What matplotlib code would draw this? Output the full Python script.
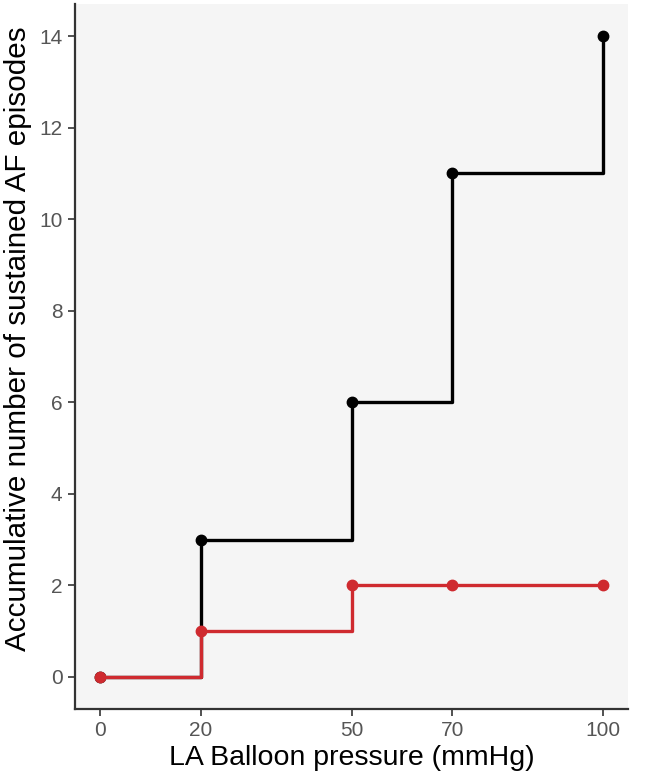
import matplotlib.pyplot as plt

# datos
presion = [0, 20, 50, 70, 100]
af_negro = [0, 3, 6, 11, 14]
af_rojo = [0, 1, 2, 2, 2]
yticks = [0, 2, 4, 6, 8, 10, 12, 14]

plt.rcParams['font.family'] = ['Liberation Sans', 'DejaVu Sans']

fig = plt.figure(figsize=(6.61, 7.79), dpi=100)
fig.patch.set_facecolor('white')
ax = fig.add_axes([0.1135, 0.0899, 0.8366, 0.905])
ax.set_facecolor('#f5f5f5')

# negro primero, rojo encima
ax.step(presion, af_negro, where='post', color='black', lw=2.4, zorder=2)
ax.plot(presion, af_negro, 'o', color='black', ms=7.5, zorder=3)
ax.step(presion, af_rojo, where='post', color='#cf2a2f', lw=2.4, zorder=4)
ax.plot(presion, af_rojo, 'o', color='#cf2a2f', ms=7.5, zorder=5)

ax.set_xlim(-5, 105)
ax.set_ylim(-0.7, 14.7)
ax.set_xticks(presion)
ax.set_yticks(yticks)

for s in ['top', 'right']:
    ax.spines[s].set_visible(False)
for s in ['left', 'bottom']:
    ax.spines[s].set_color('#333333')
    ax.spines[s].set_linewidth(1.6)

ax.tick_params(length=5, width=1.2, color='#333333', labelcolor='#555555',
               labelsize=15, pad=4)

ax.set_xlabel("LA Balloon pressure (mmHg)", fontsize=20.5, color='black', labelpad=3)
ax.set_ylabel("Accumulative number of sustained AF episodes", fontsize=21.3,
              color='black')
ax.yaxis.set_label_coords(-0.078, 0.525)

fig.savefig('out.png', dpi=100)
